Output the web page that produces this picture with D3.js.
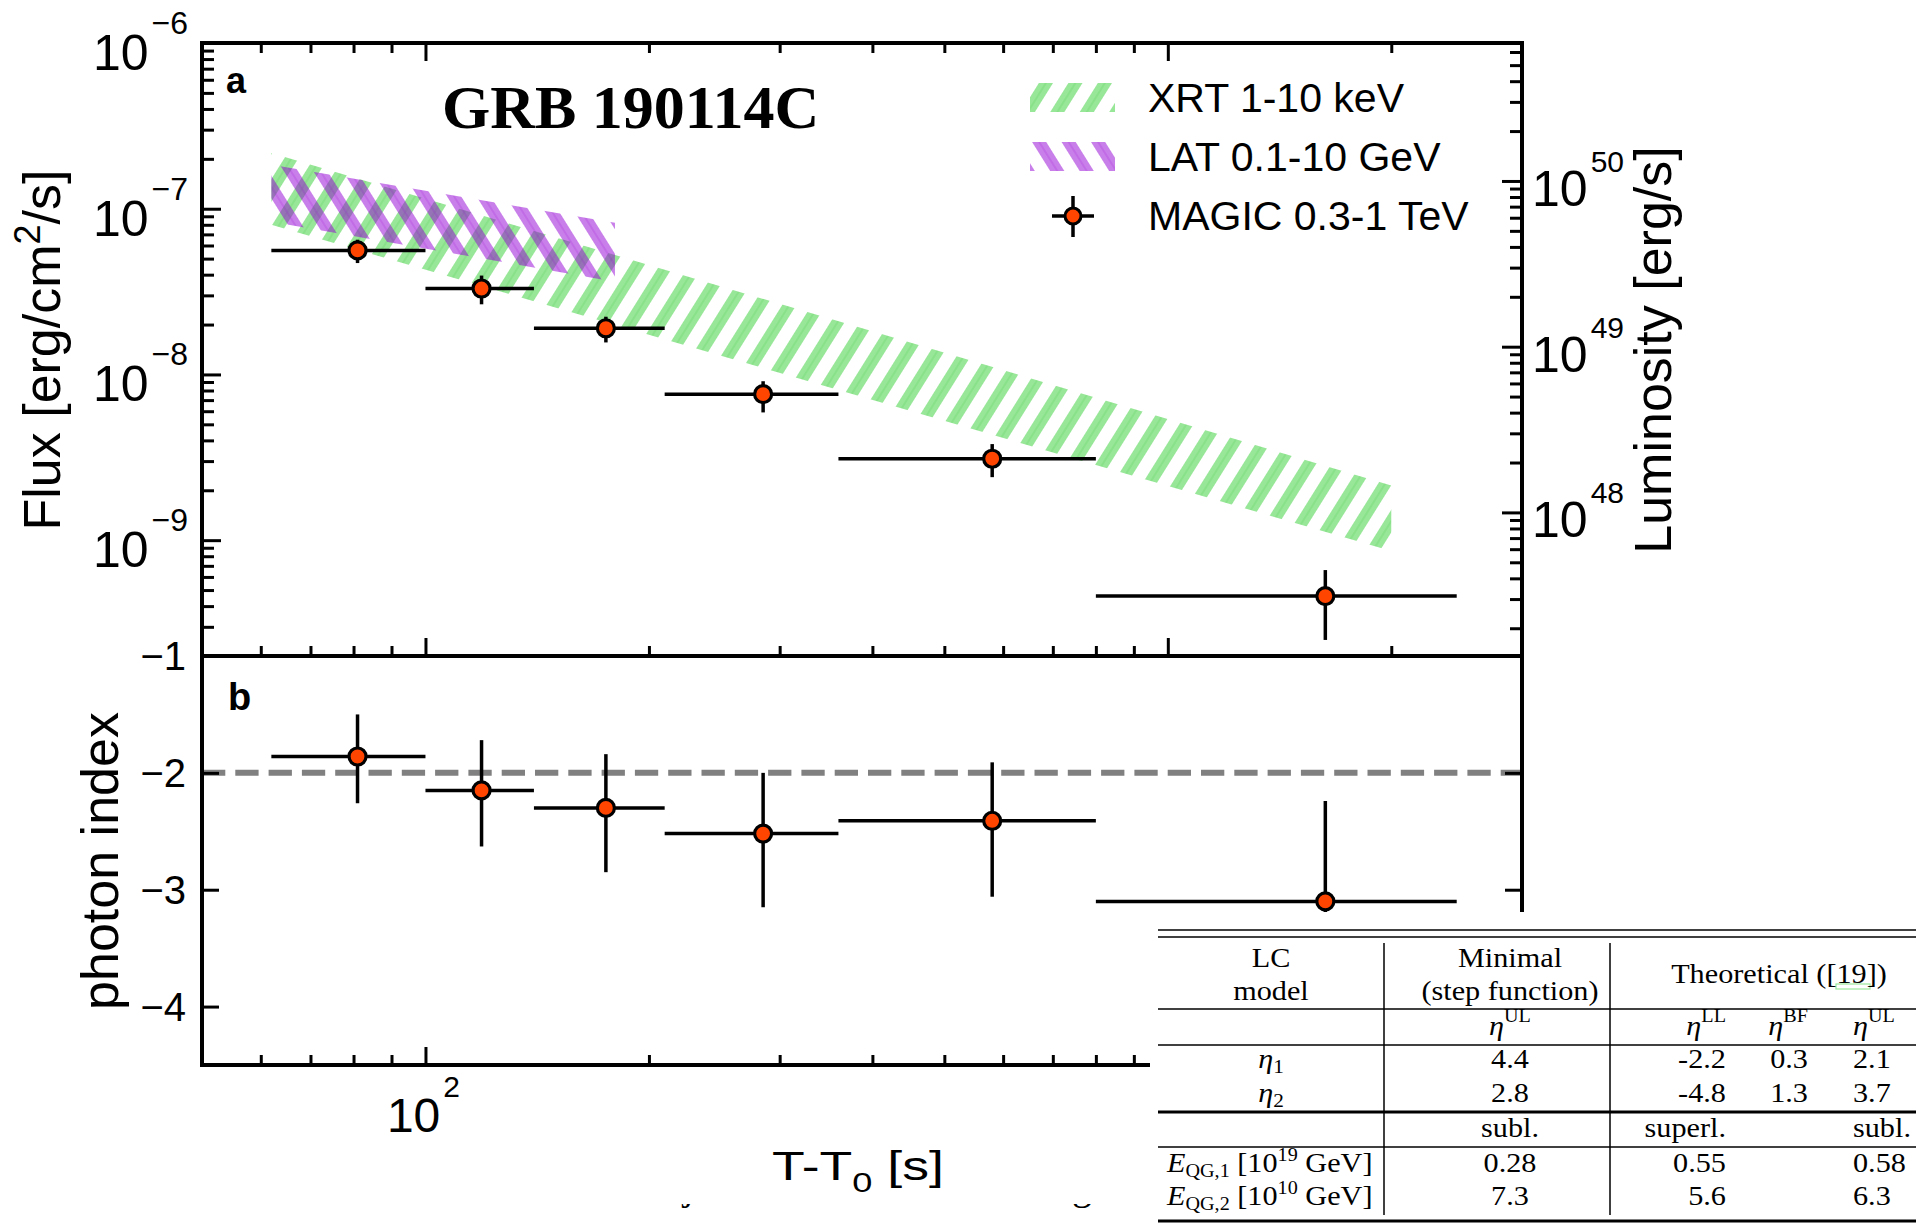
<!DOCTYPE html>
<html>
<head>
<meta charset="utf-8">
<script src="https://cdn.jsdelivr.net/npm/d3@7"></script>
<style>
body { margin: 0; background: #fff; }
svg { display: block; }
</style>
</head>
<body>
<svg id="chart"></svg>
<script>
// MAGIC 0.3-1 TeV light curve (time bins in s after T0)
var tLow = [62, 100, 140, 210, 360, 800];
var tHigh = [100, 140, 210, 360, 800, 2450];
var tMid = [81, 119, 175, 285, 580, 1630];
var flux = [5.6e-8, 3.3e-8, 1.9e-8, 7.6e-9, 3.1e-9, 4.6e-10];
var fluxLo = [4.7e-8, 2.65e-8, 1.56e-8, 5.9e-9, 2.4e-9, 2.5e-10];
var fluxHi = [6.5e-8, 3.95e-8, 2.23e-8, 9.1e-9, 3.8e-9, 6.6e-10];
var photonIndex = [-1.86, -2.15, -2.30, -2.52, -2.41, -3.10];
var indexLo = [-2.26, -2.63, -2.85, -3.15, -3.06, -3.97];
var indexHi = [-1.50, -1.72, -1.84, -2.00, -1.91, -2.24];

// XRT and LAT bands (edges)
var xrtT = [62, 2000];
var xrtUp = [2.17e-7, 2.14e-9];
var xrtDown = [8.0e-8, 8.6e-10];
var latT = [62, 180];
var latUp = [1.84e-7, 8.24e-8];
var latDown = [8.35e-8, 3.63e-8];

var lumFactor = 6.8e56; // flux -> luminosity
var fluxExp = [-6, -7, -8, -9];
var lumExp = [50, 49, 48];
var indexTicks = [-1, -2, -3, -4];
var timeExp = [2];

var legendNames = ["XRT 1-10 keV", "LAT 0.1-10 GeV", "MAGIC 0.3-1 TeV"];

// table text
var headCols = [["LC", "model"], ["Minimal", "(step function)"]];
var headTheo = "Theoretical ([19])";
var etaSup = ["UL", "LL", "BF", "UL"];
var eta1 = ["4.4", "-2.2", "0.3", "2.1"];
var eta2 = ["2.8", "-4.8", "1.3", "3.7"];
var lType = ["subl.", "superl.", "", "subl."];
var eqg1 = ["0.28", "0.55", "", "0.58"];
var eqg2 = ["7.3", "5.6", "", "6.3"];

var W = 1916, H = 1223;
var left = 202, right = 1522, topA = 43, botA = 656, botB = 1065;
var sans = "'Liberation Sans', Arial, Helvetica, sans-serif";
var serif = "'Liberation Serif', 'Times New Roman', serif";

var svg = d3.select("#chart").attr("width", W).attr("height", H);
svg.append("rect").attr("width", W).attr("height", H).attr("fill", "#fff");

var x = d3.scaleLog().domain([50, 3000]).range([left, right]);
var yF = d3.scaleLog().domain([1e-6, 2e-10]).range([topA, botA]);
var yL = d3.scaleLog().domain([1e-6 * lumFactor, 2e-10 * lumFactor]).range([topA, botA]);
var yI = d3.scaleLinear().domain([-1, -4.5]).range([botA, botB]);

// hatch patterns
var defs = svg.append("defs");
function hatch(id, color, angle) {
	var p = defs.append("pattern")
		.attr("id", id)
		.attr("patternUnits", "userSpaceOnUse")
		.attr("width", 25).attr("height", 25)
		.attr("patternTransform", "rotate(" + angle + ")");
	p.append("rect").attr("x", 0).attr("y", 0).attr("width", 12).attr("height", 25)
		.attr("fill", color).attr("fill-opacity", 0.5);
	p.append("line").attr("x1", 6).attr("x2", 6).attr("y1", 0).attr("y2", 25)
		.attr("stroke", color).attr("stroke-opacity", 0.3).attr("stroke-width", 1);
}
hatch("hatchXRT", "rgb(50,205,50)", 32);
hatch("hatchLAT", "rgb(148,0,211)", -32);

var area = d3.area()
	.x(function(d) { return x(d.t); })
	.y0(function(d) { return yF(d.lo); })
	.y1(function(d) { return yF(d.hi); });

svg.append("path")
	.datum(xrtT.map(function(t, i) { return {t: t, lo: xrtDown[i], hi: xrtUp[i]}; }))
	.attr("d", area)
	.attr("fill", "url(#hatchXRT)");
svg.append("path")
	.datum(latT.map(function(t, i) { return {t: t, lo: latDown[i], hi: latUp[i]}; }))
	.attr("d", area)
	.attr("fill", "url(#hatchLAT)");

// dashed reference at index -2
svg.append("line")
	.attr("x1", left).attr("x2", right)
	.attr("y1", yI(-2)).attr("y2", yI(-2))
	.attr("stroke", "#808080").attr("stroke-width", 6)
	.attr("stroke-dasharray", "23.3 10");

// error bars + markers
function points(yScale, val, lo, hi) {
	var g = svg.append("g");
	tMid.forEach(function(t, i) {
		g.append("line")
			.attr("x1", x(tLow[i])).attr("x2", x(tHigh[i]))
			.attr("y1", yScale(val[i])).attr("y2", yScale(val[i]))
			.attr("stroke", "#000").attr("stroke-width", 3.5);
		g.append("line")
			.attr("x1", x(t)).attr("x2", x(t))
			.attr("y1", yScale(lo[i])).attr("y2", yScale(hi[i]))
			.attr("stroke", "#000").attr("stroke-width", 3.5);
		g.append("circle")
			.attr("cx", x(t)).attr("cy", yScale(val[i])).attr("r", 8.5)
			.attr("fill", "#ff4500").attr("stroke", "#000").attr("stroke-width", 3.2);
	});
}
points(yF, flux, fluxLo, fluxHi);
points(yI, photonIndex, indexLo, indexHi);

// ticks
function isMajor(v) {
	var l = Math.log10(Math.abs(v));
	return Math.abs(l - Math.round(l)) < 1e-6;
}
function tickAxis(axisFn, scale, vals, len, tx, ty) {
	svg.append("g")
		.attr("transform", "translate(" + tx + "," + ty + ")")
		.call(axisFn(scale).tickValues(vals).tickSize(-len).tickFormat(""))
		.call(function(g) { g.select(".domain").remove(); })
		.selectAll("line").attr("stroke", "#000").attr("stroke-width", 3);
}
var xt = x.ticks();
var xMinor = xt.filter(function(v) { return !isMajor(v); });
var xMajor = xt.filter(isMajor);
[topA, botA, botB].forEach(function(yy, k) {
	var fn = k === 0 ? d3.axisTop : d3.axisBottom;
	tickAxis(fn, x, xMinor, 10, 0, yy);
	tickAxis(fn, x, xMajor, 18, 0, yy);
});
var ft = yF.ticks();
tickAxis(d3.axisLeft, yF, ft.filter(function(v) { return !isMajor(v); }), 12, left, 0);
tickAxis(d3.axisLeft, yF, ft.filter(isMajor), 19, left, 0);
var lt = yL.ticks();
tickAxis(d3.axisRight, yL, lt.filter(function(v) { return !isMajor(v); }), 12, right, 0);
tickAxis(d3.axisRight, yL, lt.filter(isMajor), 20, right, 0);
tickAxis(d3.axisLeft, yI, indexTicks, 17, left, 0);
tickAxis(d3.axisRight, yI, indexTicks, 17, right, 0);

// spines
svg.append("path")
	.attr("d", "M" + left + "," + botB + "V" + topA + "H" + right + "V" + botB + "H" + left +
		"M" + left + "," + botA + "H" + right)
	.attr("fill", "none").attr("stroke", "#000").attr("stroke-width", 4)
	.attr("stroke-linejoin", "miter").attr("stroke-linecap", "square");

// tick labels
function powLabel(px, py, anchor, exp, big, small, rise) {
	var t = svg.append("text")
		.attr("x", px).attr("y", py)
		.attr("text-anchor", anchor)
		.attr("font-family", sans).attr("fill", "#000");
	t.append("tspan").attr("font-size", big).text("10");
	t.append("tspan").attr("font-size", small).attr("dy", -rise).attr("dx", 3)
		.text(String(exp).replace("-", "\u2212"));
}
fluxExp.forEach(function(e) {
	powLabel(188, yF(Math.pow(10, e)) + 27, "end", e, 50, 32, 36);
});
lumExp.forEach(function(e) {
	powLabel(1532, yL(Math.pow(10, e)) + 25, "start", e, 50, 30, 34);
});
timeExp.forEach(function(e) {
	powLabel(x(Math.pow(10, e)) - 2, 1132, "middle", e, 48, 30, 35);
});
indexTicks.forEach(function(v) {
	svg.append("text")
		.attr("x", 186).attr("y", yI(v) + 14)
		.attr("text-anchor", "end")
		.attr("font-family", sans).attr("font-size", 40)
		.text(String(v).replace("-", "\u2212"));
});

// axis titles
function vLabel(px, py, parts) {
	var t = svg.append("text")
		.attr("transform", "translate(" + px + "," + py + ") rotate(-90)")
		.attr("text-anchor", "middle")
		.attr("font-family", sans).attr("font-size", 52);
	parts.forEach(function(p) {
		var s = t.append("tspan").text(p[0]);
		if (p[1]) s.attr("font-size", p[1]).attr("dy", p[2]);
	});
}
vLabel(60, 350, [["Flux [erg/cm"], ["2", 36, -20], ["/s]", 52, 20]]);
vLabel(118, 861, [["photon index"]]);
vLabel(1671, 350, [["Luminosity [erg/s]"]]);

var xl = svg.append("text")
	.attr("transform", "translate(772,1180) scale(1.34,1)")
	.attr("font-family", sans).attr("font-size", 40);
xl.append("tspan").text("T-T");
xl.append("tspan").attr("font-size", 27).attr("dy", 12).text("0");
xl.append("tspan").attr("dy", -12).text(" [s]");

// panel letters and title
svg.append("text").attr("x", 226).attr("y", 93)
	.attr("font-family", sans).attr("font-weight", "bold").attr("font-size", 36).text("a");
svg.append("text").attr("x", 228).attr("y", 710)
	.attr("font-family", sans).attr("font-weight", "bold").attr("font-size", 38).text("b");
svg.append("text").attr("x", 442).attr("y", 128)
	.attr("font-family", serif).attr("font-weight", "bold").attr("font-size", 62)
	.text("GRB 190114C");

// legend
svg.append("rect").attr("x", 1030).attr("y", 83).attr("width", 85).attr("height", 29)
	.attr("fill", "url(#hatchXRT)");
svg.append("rect").attr("x", 1030).attr("y", 142).attr("width", 85).attr("height", 29)
	.attr("fill", "url(#hatchLAT)");
var lg = svg.append("g").attr("transform", "translate(1073,216)");
lg.append("line").attr("x1", -21).attr("x2", 21).attr("stroke", "#000").attr("stroke-width", 3.5);
lg.append("line").attr("y1", -20).attr("y2", 21).attr("stroke", "#000").attr("stroke-width", 3.5);
lg.append("circle").attr("r", 8).attr("fill", "#ff4500").attr("stroke", "#000").attr("stroke-width", 3);
legendNames.forEach(function(n, i) {
	svg.append("text")
		.attr("x", 1148).attr("y", 112 + i * 59)
		.attr("font-family", sans).attr("font-size", 41)
		.text(n);
});

// page text fragments peeking below the figure
svg.append("clipPath").attr("id", "fragClip")
	.append("rect").attr("x", 0).attr("y", 1204).attr("width", W).attr("height", 20);
var frag = svg.append("g").attr("clip-path", "url(#fragClip)")
	.attr("font-family", serif).attr("font-size", 40);
frag.append("text").attr("x", 683).attr("y", 1199).text("j");
frag.append("text").attr("x", 1072).attr("y", 1199).text("g");

// table overlay
var tx0 = 1158, tsx = 1.12;
function lx(v) { return (v - tx0) / tsx; }
svg.append("rect").attr("x", 1150).attr("y", 912).attr("width", W - 1150).attr("height", H - 912)
	.attr("fill", "#fff");
var rules = [[930, 1.5], [937, 1.5], [1009, 1.5], [1045, 1.5], [1112, 2.8], [1147, 1.5], [1221, 3]];
rules.forEach(function(r) {
	svg.append("line").attr("x1", tx0).attr("x2", W).attr("y1", r[0]).attr("y2", r[0])
		.attr("stroke", "#000").attr("stroke-width", r[1]);
});
[1384, 1610].forEach(function(vx) {
	svg.append("line").attr("x1", vx).attr("x2", vx).attr("y1", 943).attr("y2", 1215)
		.attr("stroke", "#000").attr("stroke-width", 1.5);
});
svg.append("rect").attr("x", 1836).attr("y", 984).attr("width", 34).attr("height", 5)
	.attr("fill", "none").attr("stroke", "#9be89b").attr("stroke-width", 1.2);

var tg = svg.append("g")
	.attr("transform", "translate(" + tx0 + ",0) scale(" + tsx + ",1)")
	.attr("font-family", serif).attr("font-size", 27).attr("fill", "#000");
function tText(px, py, anchor) {
	return tg.append("text").attr("x", lx(px)).attr("y", py).attr("text-anchor", anchor);
}
var headX = [1271, 1510];
headCols.forEach(function(h, i) {
	tText(headX[i], 967, "middle").text(h[0]);
	tText(headX[i], 1000, "middle").text(h[1]);
});
tText(1779, 983, "middle").text(headTheo);

var colX = [1510, 1726, 1808, 1853];
var colA = ["middle", "end", "end", "start"];
etaSup.forEach(function(s, i) {
	var t = tText(colX[i], 1035, colA[i]);
	t.append("tspan").attr("font-style", "italic").text("\u03b7");
	t.append("tspan").attr("font-size", 18).attr("dy", -13).text(s);
});
[eta1, eta2, lType, eqg1, eqg2].forEach(function(row, r) {
	var yy = [1068, 1102, 1137, 1172, 1205][r];
	row.forEach(function(v, i) {
		if (v) tText(colX[i], yy, colA[i]).text(v);
	});
});
[1, 2].forEach(function(k, r) {
	var t = tText(1271, [1068, 1102][r], "middle");
	t.append("tspan").attr("font-style", "italic").text("\u03b7");
	t.append("tspan").attr("font-size", 19).attr("dy", 5).text(k);
});
[["1", "19"], ["2", "10"]].forEach(function(p, r) {
	var t = tText(1167, [1172, 1205][r], "start");
	t.append("tspan").attr("font-style", "italic").text("E");
	t.append("tspan").attr("font-size", 18).attr("dy", 5).text("QG," + p[0]);
	t.append("tspan").attr("dy", -5).text(" [10");
	t.append("tspan").attr("font-size", 18).attr("dy", -11).text(p[1]);
	t.append("tspan").attr("dy", 11).text(" GeV]");
});
</script>
</body>
</html>
